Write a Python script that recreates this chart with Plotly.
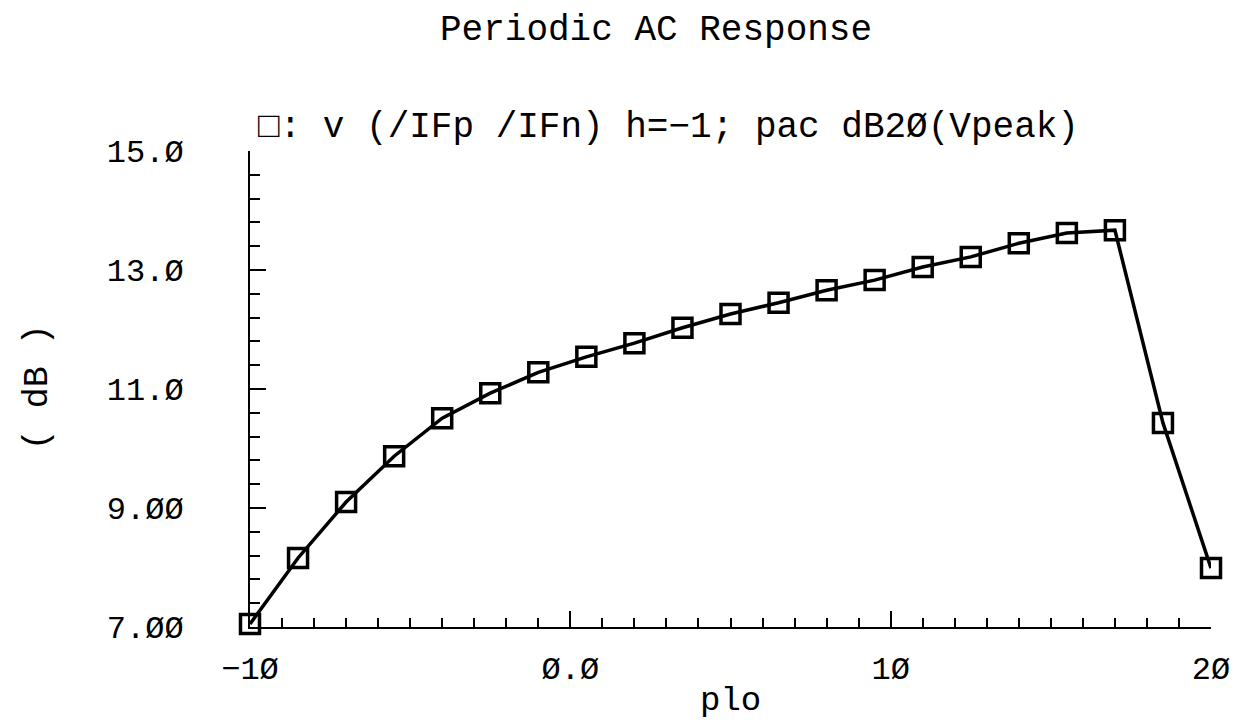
import plotly.graph_objects as go

plo = [-10, -8.5, -7, -5.5, -4, -2.5, -1, 0.5, 2, 3.5, 5, 6.5, 8, 9.5, 11, 12.5, 14, 15.5, 17, 18.5, 20]
db = [7.05, 8.16, 9.10, 9.87, 10.51, 10.93, 11.28, 11.54, 11.77, 12.03, 12.26, 12.45, 12.66, 12.83,
      13.05, 13.22, 13.45, 13.62, 13.67, 10.43, 7.99]

x_tickvals = [-10, 0, 10, 20]
x_ticktext = ["\u22121\u00d8", "\u00d8.\u00d8", "1\u00d8", "2\u00d8"]
y_tickvals = [7, 9, 11, 13, 15]
y_ticktext = ["7.\u00d8\u00d8", "9.\u00d8\u00d8", "11.\u00d8", "13.\u00d8", "15.\u00d8"]

FONT = "Liberation Mono, DejaVu Sans Mono, monospace"

fig = go.Figure()
fig.add_trace(go.Scatter(
    x=plo, y=db, mode="lines+markers",
    line=dict(color="black", width=3.5),
    marker=dict(symbol="square-open", size=19, color="black", line=dict(width=3.5, color="black")),
    showlegend=False, cliponaxis=False,
))

axis_common = dict(
    showgrid=False, zeroline=False, showline=True, linecolor="black", linewidth=2,
    ticks="inside", ticklen=16, tickwidth=2, tickcolor="black",
    tickfont=dict(family=FONT, size=32, color="black"),
)

fig.update_xaxes(range=[-10, 20], tickvals=x_tickvals, ticktext=x_ticktext,
                 minor=dict(ticks="inside", ticklen=9, tickwidth=2, tickcolor="black", dtick=1, tick0=0),
                 ticklabelstandoff=12, **axis_common)
fig.update_yaxes(range=[7, 15], tickvals=y_tickvals, ticktext=y_ticktext,
                 minor=dict(ticks="inside", ticklen=10, tickwidth=2, tickcolor="black", dtick=0.4, tick0=7),
                 ticklabelstandoff=58, **axis_common)

fig.update_layout(
    width=1234, height=715,
    margin=dict(l=242, r=26, t=143, b=96),
    plot_bgcolor="white", paper_bgcolor="white",
    font=dict(family=FONT, size=34, color="black"),
    annotations=[
        dict(text="Periodic AC Response", xref="paper", yref="paper", x=0.4224, y=1.254,
             showarrow=False, xanchor="center", yanchor="middle", font=dict(size=36)),
        dict(text="<b>\u25a1</b>: v (/IFp /IFn) h=\u22121; pac dB2\u00d8(Vpeak)", xref="paper", yref="paper",
             x=0.006, y=1.0504, showarrow=False, xanchor="left", yanchor="middle", font=dict(size=36)),
        dict(text="( dB )", xref="paper", yref="paper", x=-0.2205, y=0.504, textangle=-90,
             showarrow=False, xanchor="center", yanchor="middle", font=dict(size=35)),
        dict(text="plo", xref="paper", yref="paper", x=0.5, y=-0.155,
             showarrow=False, xanchor="center", yanchor="middle", font=dict(size=34)),
    ],
)

fig.write_html("out.html")
